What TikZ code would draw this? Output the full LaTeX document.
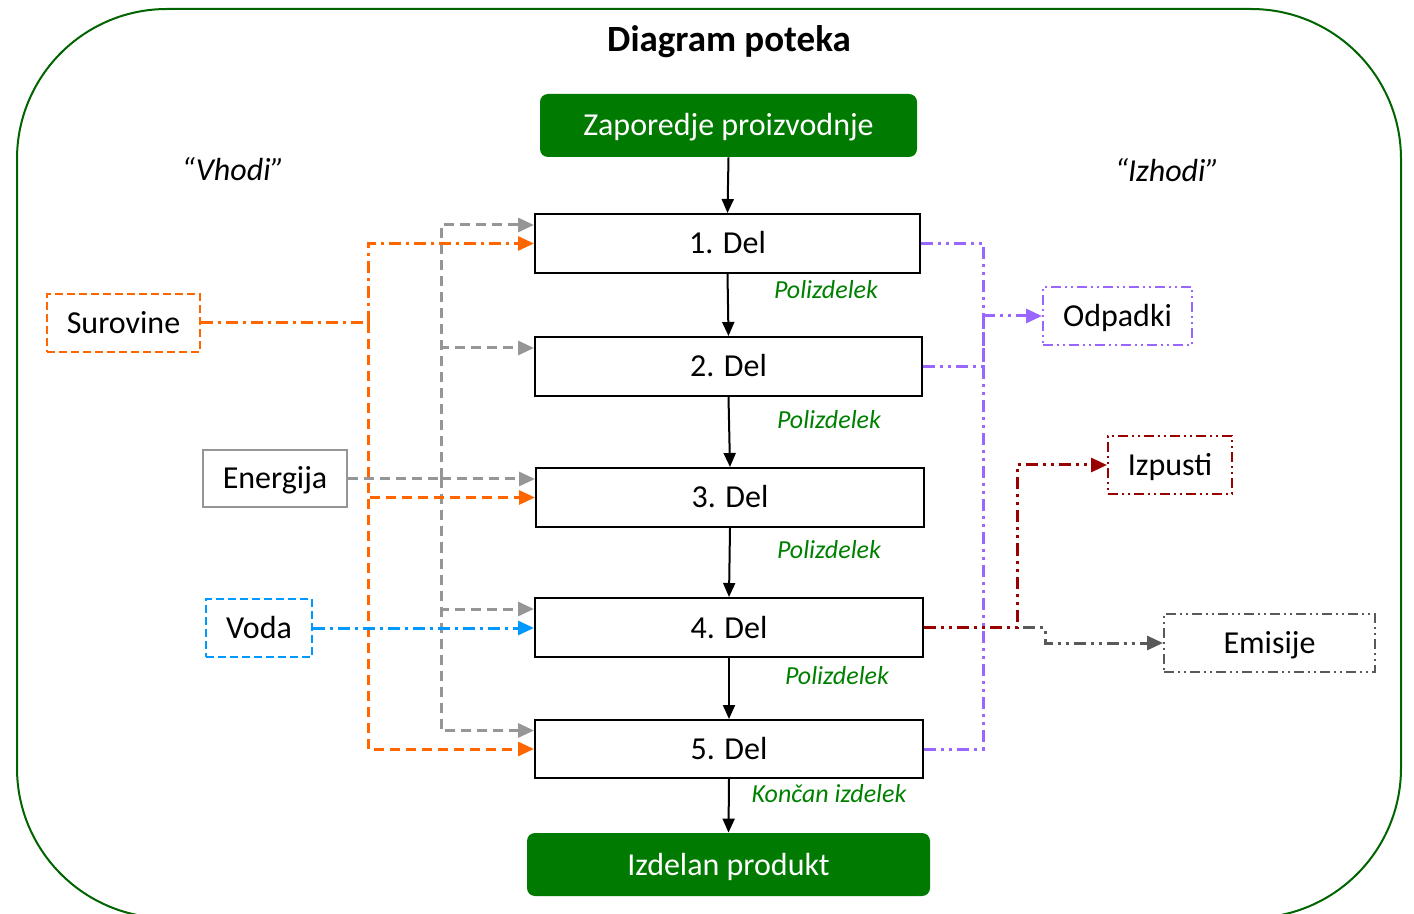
\documentclass[tikz,border=0pt]{standalone}
\usepackage{fontspec}
\setmainfont{Carlito}
\usetikzlibrary{arrows.meta,calc}
\definecolor{boxgreen}{RGB}{0,122,0}
\definecolor{txtgreen}{RGB}{0,128,0}
\definecolor{orng}{RGB}{255,102,0}
\definecolor{grayln}{RGB}{150,150,150}
\definecolor{blueln}{RGB}{0,153,255}
\definecolor{purp}{RGB}{153,102,255}
\definecolor{dred}{RGB}{153,0,0}
\definecolor{dgray}{RGB}{89,89,89}
\definecolor{framecol}{RGB}{0,100,0}
\begin{document}
\begin{tikzpicture}[x=0.5pt,y=-0.5pt,
  every node/.style={font=\fontsize{16}{19}\selectfont, inner sep=0pt, text height=10.5pt, text depth=0pt},
  delbox/.style={draw=black, line width=1pt, fill=white, minimum height=29.5pt},
  greenbox/.style={fill=boxgreen, rounded corners=4pt, text=white, minimum height=31.5pt},
  semi/.style={font=\fontsize{13}{15}\selectfont\itshape, text=txtgreen, text height=8.5pt},
  quote/.style={font=\fontsize{16}{19}\selectfont\itshape},
  tip/.style={-{Triangle[length=8pt,width=7pt]}},
  btip/.style={-{Triangle[length=7pt,width=6pt]}},
  dsh/.style={dash pattern=on 5pt off 3pt},
  bdsh/.style={dash pattern=on 4pt off 2pt},
  dshdot/.style={dash pattern=on 6pt off 2.5pt on 1.5pt off 2.5pt},
  dshdd/.style={dash pattern=on 6pt off 2.5pt on 1.5pt off 2.5pt on 1.5pt off 2.5pt},
  bdshdd/.style={dash pattern=on 5pt off 2pt on 1pt off 2pt on 1pt off 2pt},
  conn/.style={line width=1.5pt},
  sidebox/.style={line width=1pt, minimum height=29pt},
]
\useasboundingbox (0,0) rectangle (1414,914);
\clip (0,0) rectangle (1414,914);
\draw[framecol, line width=1pt, rounded corners=75pt] (17,9) rectangle (1401,918);

\node[font=\fontsize{18.5}{22}\selectfont\bfseries, text height=12pt] (title) at (729,40) {Diagram poteka};
\node[quote] (vhodi) at (233,170) {“Vhodi”};
\node[quote] (izhodi) at (1167,171) {“Izhodi”};

\node[greenbox, minimum width=188.5pt] (zap) at (728.5,125.5) {Zaporedje proizvodnje};
\node[delbox, minimum width=192.5pt] (d1) at (727.5,243.5) {1. Del};
\node[delbox, minimum width=193.5pt] (d2) at (728.5,366.5) {2. Del};
\node[delbox, minimum width=194pt] (d3) at (730,497.5) {3. Del};
\node[delbox, minimum width=194pt] (d4) at (729,627.5) {4. Del};
\node[delbox, minimum width=194pt, minimum height=29pt] (d5) at (729,749) {5. Del};
\node[greenbox, minimum width=201.5pt] (izd) at (728.5,864.5) {Izdelan produkt};

\node[semi] (p1) at (826,290) {Polizdelek};
\node[semi] (p2) at (829,420) {Polizdelek};
\node[semi] (p3) at (829,550) {Polizdelek};
\node[semi] (p4) at (837,676) {Polizdelek};
\node[semi] (p5) at (829,794) {Končan izdelek};

\node[sidebox, draw=orng, bdsh, minimum width=76.5pt] (sur) at (123.5,323) {Surovine};
\node[sidebox, draw=grayln, minimum width=72pt, minimum height=28.5pt] (ene) at (275,478.5) {Energija};
\node[sidebox, draw=blueln, bdsh, minimum width=53pt] (voda) at (259,628) {Voda};
\node[sidebox, draw=purp, bdshdd, minimum width=74.5pt] (odp) at (1117.5,316) {Odpadki};
\node[sidebox, draw=dred, bdshdd, minimum width=62pt] (izp) at (1170,465) {Izpusti};
\node[sidebox, draw=dgray, bdshdd, minimum width=105.5pt] (emi) at (1269.5,643) {Emisije};

% main flow
\draw[btip, line width=1pt] (zap.south) -- (d1.north);
\draw[btip, line width=1pt] (d1.south) -- (d2.north);
\draw[btip, line width=1pt] (d2.south) -- (d3.north);
\draw[btip, line width=1pt] (d3.south) -- (d4.north);
\draw[btip, line width=1pt] (d4.south) -- (d5.north);
\draw[btip, line width=1pt] (d5.south) -- (izd.north);

% gray (energy)
\coordinate (gj) at (441,478.5);
\draw[grayln, conn, dsh] (ene.east) -- (gj);
\draw[grayln, conn, dsh, tip] (gj) |- ($(d1.west)+(0,-18.5)$);
\draw[grayln, conn, dsh, tip] (gj) |- ($(d2.west)+(0,-18.5)$);
\draw[grayln, conn, dsh, tip] (gj) |- ($(d3.west)+(0,-18.5)$);
\draw[grayln, conn, dsh, tip] (gj) |- ($(d4.west)+(0,-18.5)$);
\draw[grayln, conn, dsh, tip] (gj) |- ($(d5.west)+(0,-18.5)$);

% orange (raw materials)
\coordinate (oj) at (368,323);
\draw[orng, conn, dshdot] (sur.east) -- (oj);
\draw[orng, conn, dshdot, tip] (oj) |- (d1.west);
\draw[orng, conn, dsh, tip] (oj) |- (d3.west);
\draw[orng, conn, dsh, tip] (oj) |- (d5.west);

% blue (water)
\draw[blueln, conn, dshdot, tip] (voda.east) -- (voda.east -| d4.west);

% purple (waste)
\coordinate (pj) at (983,316);
\draw[purp, conn, dshdd] (d1.east) -| (pj);
\draw[purp, conn, dshdd] (d2.east) -| (pj);
\draw[purp, conn, dshdd] (d5.east) -| (pj);
\draw[purp, conn, dshdd, tip] (pj) -- (odp.west);

% emissions
\draw[dgray, conn, dshdd, tip] (d4.east) -- ++(121,0) |- (emi.west);
\draw[dred, conn, dshdd, tip] (d4.east) -- ++(93,0) |- (izp.west);
\end{tikzpicture}
\end{document}
